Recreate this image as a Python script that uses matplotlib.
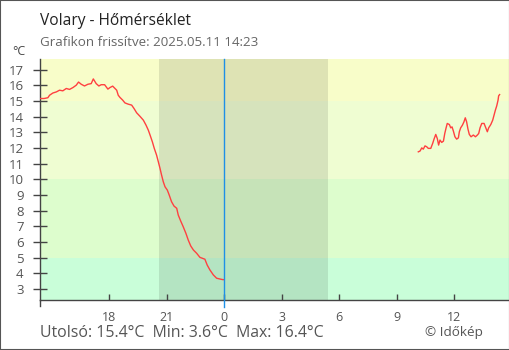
import matplotlib
matplotlib.use("Agg")
import matplotlib.pyplot as plt
from matplotlib.patches import Rectangle

plt.rcParams['font.family'] = ['Open Sans', 'DejaVu Sans']

# hours relative to midnight (negative = previous day)
prev_hours = [-9.61, -9.40, -9.20, -9.11, -8.94, -8.76, -8.59, -8.42, -8.24, -8.07,
              -7.89, -7.72, -7.60, -7.46, -7.29, -7.11, -6.94, -6.83, -6.68, -6.54,
              -6.42, -6.24, -6.07, -5.96, -5.82, -5.61, -5.53, -5.44, -5.30, -5.18,
              -5.01, -4.83, -4.71, -4.57, -4.40, -4.22, -4.08, -3.96, -3.87, -3.75,
              -3.65, -3.53, -3.44, -3.35, -3.27, -3.18, -3.09, -2.97, -2.87, -2.75,
              -2.62, -2.48, -2.40, -2.28, -2.14, -2.00, -1.88, -1.75, -1.61, -1.44,
              -1.27, -1.01, -0.89, -0.75, -0.57, -0.40, -0.23, -0.08, -0.02]
prev_temps = [15.15, 15.15, 15.20, 15.36, 15.50, 15.57, 15.68, 15.64, 15.79, 15.73,
              15.85, 16.00, 16.20, 16.06, 15.95, 16.06, 16.10, 16.40, 16.10, 15.95,
              16.03, 16.03, 15.75, 15.85, 15.94, 15.68, 15.36, 15.22, 15.05, 14.87,
              14.79, 14.73, 14.52, 14.24, 14.02, 13.77, 13.45, 13.13, 12.82, 12.39,
              11.97, 11.54, 11.12, 10.69, 10.27, 9.84, 9.52, 9.31, 8.99, 8.57,
              8.29, 8.15, 7.72, 7.36, 6.97, 6.55, 6.13, 5.75, 5.49, 5.28,
              5.02, 4.90, 4.53, 4.22, 3.90, 3.69, 3.64, 3.60, 3.60]

today_hours = [10.12, 10.21, 10.30, 10.38, 10.47, 10.56, 10.64, 10.77, 10.87, 10.94,
               11.03, 11.11, 11.18, 11.25, 11.34, 11.43, 11.50, 11.57, 11.63, 11.74,
               11.81, 11.88, 11.95, 12.03, 12.12, 12.21, 12.26, 12.33, 12.42, 12.50,
               12.57, 12.64, 12.71, 12.78, 12.87, 12.99, 13.10, 13.20, 13.27, 13.34,
               13.43, 13.55, 13.62, 13.72, 13.79, 13.90, 14.00, 14.07, 14.14, 14.21,
               14.28, 14.31, 14.36]
today_temps = [11.75, 11.80, 12.00, 11.92, 12.13, 12.07, 11.97, 11.97, 12.29, 12.56,
               12.86, 12.60, 12.18, 12.50, 12.35, 12.43, 12.92, 13.28, 13.56, 13.49,
               13.28, 13.34, 13.07, 12.71, 12.56, 12.64, 13.03, 13.28, 13.45, 13.66,
               13.92, 13.66, 13.20, 12.86, 12.71, 12.82, 12.71, 12.82, 12.92, 13.28,
               13.56, 13.56, 13.34, 13.03, 13.28, 13.49, 13.77, 14.09, 14.41, 14.68,
               15.05, 15.32, 15.40]

x_ticks = [-6, -3, 0, 3, 6, 9, 12]
x_labels = ['18', '21', '0', '3', '6', '9', '12']
y_ticks = list(range(3, 18))

# temperature bands and night (sunset -> sunrise)
bands = [(-50, 5, '#c9fed9'), (5, 10, '#ddfdcd'), (10, 15, '#effdd2'), (15, 50, '#f8fdc9')]
sunset, sunrise = -3.41, 5.39

fig = plt.figure(figsize=(5.1, 3.5), dpi=100)
ax = fig.add_axes([40 / 510, 1 - 300 / 350, 469 / 510, 241 / 350])

for lo, hi, col in bands:
    ax.axhspan(lo, hi, color=col, lw=0, zorder=0)
ax.axvspan(sunset, sunrise, color='black', alpha=0.1, lw=0, zorder=1)

ax.plot(prev_hours, prev_temps, color='#ff4040', lw=1.0, zorder=3)
ax.plot(today_hours, today_temps, color='#ff4040', lw=1.0, zorder=3)
ax.axvline(0, ymin=-0.03, ymax=1, color='#1e90e6', lw=1, zorder=4, clip_on=False)

ax.set_xlim(-9.61, 14.85)
ax.set_ylim(2.3, 17.67)
ax.set_xticks(x_ticks)
ax.set_xticklabels(x_labels)
ax.set_yticks(y_ticks)

for s in ['top', 'right']:
    ax.spines[s].set_visible(False)
for s in ['left', 'bottom']:
    ax.spines[s].set_color('#444444')
    ax.spines[s].set_linewidth(1)
ax.tick_params(axis='y', direction='inout', length=9.5, width=1, color='#444444',
               labelsize=9.5, labelcolor='#555555', pad=7)
ax.tick_params(axis='x', direction='in', length=4.5, width=1, color='#444444',
               labelsize=9, labelcolor='#555555', pad=8)
# y axis stub below the bottom spine
ax.plot([-9.61, -9.61], [2.3, 1.9], color='#444444', lw=1, clip_on=False)

fig.text(40 / 510, 1 - 25 / 350, 'Volary - Hőmérséklet', fontsize=11.2, color='#222222',
         va='baseline')
fig.text(40 / 510, 1 - 45.5 / 350, 'Grafikon frissítve: 2025.05.11 14:23', fontsize=9.6,
         color='#666666', va='baseline')
fig.text(12 / 510, 1 - 55 / 350, '°C', fontsize=9, color='#444444', va='baseline')
fig.text(40 / 510, 1 - 337 / 350, 'Utolsó: 15.4°C  Min: 3.6°C  Max: 16.4°C', fontsize=11.4,
         color='#555555', va='baseline')
fig.text(425 / 510, 1 - 336 / 350, '© Időkép', fontsize=9.7, color='#555555', va='baseline')

fig.patches.append(Rectangle((0, 0), 1, 1, transform=fig.transFigure, fill=False,
                             edgecolor='#555555', lw=1.5))

fig.savefig('out.png', dpi=100)
